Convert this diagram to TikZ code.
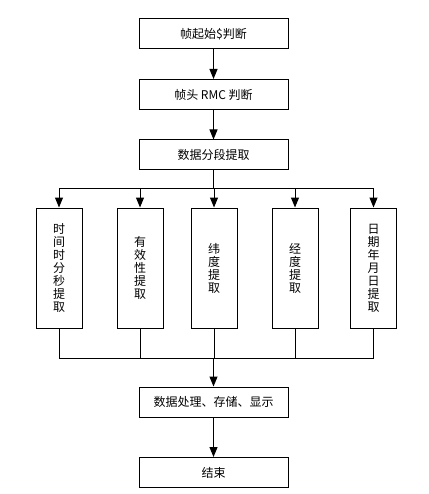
\documentclass[tikz,border=0pt]{standalone}
\usepackage{fontspec}
\setmainfont{Noto Sans CJK SC}
\usetikzlibrary{arrows.meta}
\begin{document}
\begin{tikzpicture}[x=1pt,y=-1pt,line width=1pt,
  hbox/.style={draw,minimum width=149pt,minimum height=30pt,inner sep=0pt,font=\fontsize{12}{13}\selectfont},
  vbox/.style={draw,minimum width=46pt,minimum height=120pt,inner sep=0pt,align=center,font=\fontsize{12}{13}\selectfont},
  arr/.style={-{Triangle[width=8pt,length=10pt]}}]
\useasboundingbox (0,0) rectangle (428,494);
\node[hbox] (b1) at (213.5,34) {帧起始\$判断};
\node[hbox] (b2) at (213.5,94.5) {帧头 RMC 判断};
\node[hbox] (b3) at (213.5,155) {数据分段提取};
\node[vbox] (v1) at (59,268) {时\\间\\时\\分\\秒\\提\\取};
\node[vbox] (v2) at (140,268) {有\\效\\性\\提\\取};
\node[vbox] (v3) at (214,268) {纬\\度\\提\\取};
\node[vbox] (v4) at (295,268) {经\\度\\提\\取};
\node[vbox] (v5) at (373.5,268) {日\\期\\年\\月\\日\\提\\取};
\node[hbox] (b6) at (213.5,402) {数据处理、存储、显示};
\node[hbox] (b7) at (213.5,472.5) {结束};
\coordinate (t1) at (59,188);
\coordinate (t5) at (373.5,188);
\coordinate (u1) at (59,358);
\coordinate (u5) at (373.5,358);
\draw[arr] (b1) -- (b2);
\draw[arr] (b2) -- (b3);
\draw (b3.south) -- (b3.south |- t1);
\draw (t1) -- (t5);
\foreach \v in {v1,v2,v3,v4,v5} {
  \draw[arr] (\v.north |- t1) -- (\v.north);
  \draw (\v.south) -- (\v.south |- u1);
}
\draw (u1) -- (u5);
\draw[arr] (b6.north |- u1) -- (b6.north);
\draw[arr] (b6) -- (b7);
\end{tikzpicture}
\end{document}
